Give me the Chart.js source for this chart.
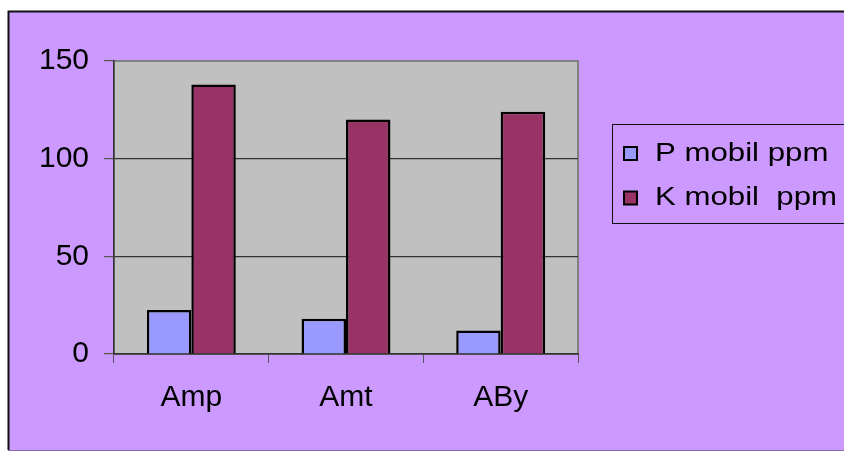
<!DOCTYPE html>
<html>
<head>
<meta charset="utf-8">
<script src="https://cdn.jsdelivr.net/npm/chart.js@4"></script>
<style>
  html, body { margin: 0; padding: 0; background: #ffffff; }
  #wrap { width: 844px; height: 451px; }
</style>
</head>
<body>
<div id="wrap"><canvas id="c" width="844" height="451"></canvas></div>
<script>
// Soil mobile nutrient levels per site
const categories = ['Amp', 'Amt', 'ABy'];
const pMobil = [22.5, 18, 12];
const kMobil = [138, 120, 124];
const seriesLabels = ['P mobil ppm', 'K mobil  ppm'];
const yTickValues = [0, 50, 100, 150];

const FONT = '"Liberation Sans", Arial, sans-serif';
const PURPLE = '#CC99FF';

// Frame, purple backdrop and grey plot area
const backdrop = {
  id: 'backdrop',
  beforeDraw(chart) {
    const { ctx, chartArea: a } = chart;
    ctx.save();
    ctx.fillStyle = '#ffffff';
    ctx.fillRect(0, 0, chart.width, chart.height);
    ctx.fillStyle = PURPLE;
    ctx.fillRect(8, 11, chart.width, chart.height);
    ctx.strokeStyle = '#111111';
    ctx.lineWidth = 2;
    ctx.beginPath();
    ctx.moveTo(chart.width + 2, 11.5);
    ctx.lineTo(8.5, 11.5);
    ctx.lineTo(8.5, chart.height - 1);
    ctx.stroke();
    ctx.strokeStyle = '#8a6aa8';
    ctx.lineWidth = 1;
    ctx.beginPath();
    ctx.moveTo(8, chart.height - 0.5);
    ctx.lineTo(chart.width, chart.height - 0.5);
    ctx.stroke();
    ctx.fillStyle = '#C0C0C0';
    ctx.fillRect(a.left, a.top, a.right - a.left, a.bottom - a.top);
    ctx.strokeStyle = '#808080';
    ctx.lineWidth = 2;
    ctx.strokeRect(a.left, a.top, a.right - a.left, a.bottom - a.top);
    ctx.restore();
  }
};

// Boxed legend to the right of the plot
const boxedLegend = {
  id: 'boxedLegend',
  afterDraw(chart) {
    const { ctx } = chart;
    ctx.save();
    ctx.strokeStyle = '#111111';
    ctx.lineWidth = 1;
    ctx.strokeRect(612.5, 124.5, 240, 99);
    chart.data.datasets.forEach((ds, i) => {
      const cy = 153.5 + i * 44.5;
      ctx.fillStyle = ds.backgroundColor;
      ctx.fillRect(624, cy - 6.5, 13, 13);
      ctx.strokeStyle = '#000000';
      ctx.lineWidth = 2;
      ctx.strokeRect(624, cy - 6.5, 13, 13);
      // legend lettering is slightly wide
      ctx.save();
      ctx.translate(655, cy);
      ctx.scale(1.2, 1);
      ctx.font = '26px ' + FONT;
      ctx.textBaseline = 'middle';
      ctx.textAlign = 'left';
      ctx.fillStyle = '#000000';
      ctx.fillText(ds.label, 0, 0);
      ctx.restore();
    });
    ctx.restore();
  }
};

new Chart(document.getElementById('c'), {
  type: 'bar',
  data: {
    labels: categories,
    datasets: [
      { label: seriesLabels[0], data: pMobil, backgroundColor: '#9999FF', borderColor: '#000000', borderWidth: 2.5 },
      { label: seriesLabels[1], data: kMobil, backgroundColor: '#993366', borderColor: '#000000', borderWidth: 2.5 }
    ]
  },
  options: {
    responsive: false,
    animation: false,
    devicePixelRatio: 1,
    layout: { padding: { left: 0, top: 61, right: 266, bottom: 0 } },
    datasets: { bar: { categoryPercentage: 0.575, barPercentage: 1.0 } },
    plugins: {
      legend: { display: false },
      tooltip: { enabled: false }
    },
    scales: {
      x: {
        afterFit(scale) { scale.height = 97; },
        grid: {
          offset: true,
          drawOnChartArea: false,
          drawTicks: true,
          tickLength: 9,
          tickColor: '#555555',
          lineWidth: 1
        },
        border: { display: true, color: '#333333', width: 1.5 },
        ticks: {
          color: '#000000',
          padding: 17,
          font: { family: FONT, size: 30 }
        }
      },
      y: {
        min: 0,
        max: 150,
        afterFit(scale) { scale.width = 114; },
        afterBuildTicks(scale) { scale.ticks = yTickValues.map(v => ({ value: v })); },
        grid: {
          color: ctx => (ctx.tick && ctx.tick.value === 150) ? 'rgba(0,0,0,0)' : '#333333',
          tickColor: '#555555',
          tickLength: 10,
          lineWidth: 1.2
        },
        border: { display: true, color: '#333333', width: 1.5 },
        ticks: {
          color: '#000000',
          padding: 15,
          font: { family: FONT, size: 30 }
        }
      }
    }
  },
  plugins: [backdrop, boxedLegend]
});
</script>
</body>
</html>
